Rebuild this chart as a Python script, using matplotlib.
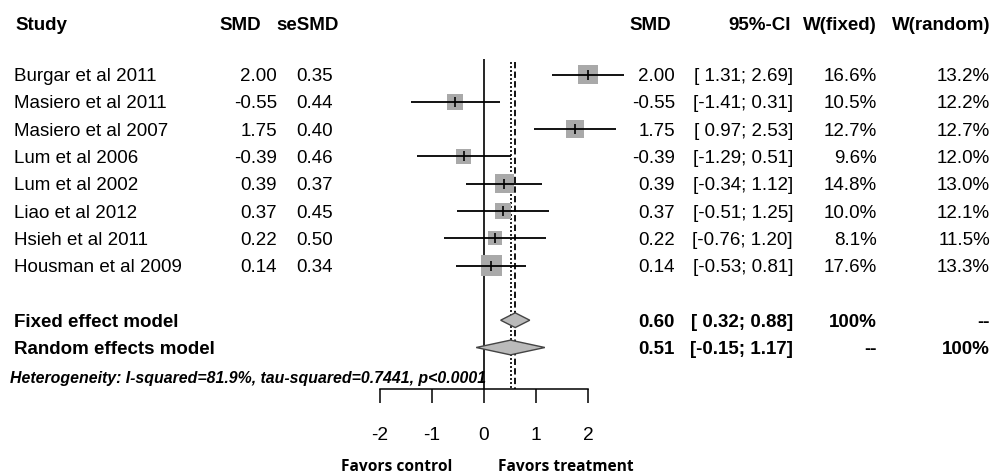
import numpy as np
import matplotlib
matplotlib.use("Agg")
import matplotlib.pyplot as plt
import matplotlib.transforms as mtransforms
from matplotlib.patches import Polygon

# study data
studies = ["Burgar et al 2011", "Masiero et al 2011", "Masiero et al 2007", "Lum et al 2006",
           "Lum et al 2002", "Liao et al 2012", "Hsieh et al 2011", "Housman et al 2009"]
smd = [2.00, -0.55, 1.75, -0.39, 0.39, 0.37, 0.22, 0.14]
se_smd = [0.35, 0.44, 0.40, 0.46, 0.37, 0.45, 0.50, 0.34]
ci_lo = [1.31, -1.41, 0.97, -1.29, -0.34, -0.51, -0.76, -0.53]
ci_hi = [2.69, 0.31, 2.53, 0.51, 1.12, 1.25, 1.20, 0.81]
w_fixed = [16.6, 10.5, 12.7, 9.6, 14.8, 10.0, 8.1, 17.6]
w_random = [13.2, 12.2, 12.7, 12.0, 13.0, 12.1, 11.5, 13.3]

# pooled estimates
fixed_est, fixed_lo, fixed_hi = 0.60, 0.32, 0.88
random_est, random_lo, random_hi = 0.51, -0.15, 1.17
het_text = "Heterogeneity: I-squared=81.9%, tau-squared=0.7441, p<0.0001"
xticks = [-2, -1, 0, 1, 2]

W, H = 1005, 475
FONT = "Liberation Sans"
fig = plt.figure(figsize=(W / 100, H / 100), dpi=100)
ax = fig.add_axes([380 / W, 86 / H, 208 / W, 389 / H])

rows = np.arange(1, len(studies) + 1)
fixed_row, random_row = 10, 11
header_row, het_row, favors_row = -0.886, 12.08, 15.38
ybot = 12.52
ax.set_xlim(-2, 2)
ax.set_ylim(ybot, -1.729)

for s in ["top", "right", "left"]:
    ax.spines[s].set_visible(False)
ax.spines["bottom"].set_linewidth(1.1)
ax.set_yticks([])
ax.set_xticks(xticks)
ax.set_xticklabels([str(t) for t in xticks], fontsize=13.8, family=FONT)
ax.tick_params(axis="x", length=10, width=1.1, pad=17)
ax.patch.set_alpha(0)

# reference lines
ax.vlines(0, 0.43, ybot, color="black", lw=1.2, zorder=1)
ax.vlines(random_est, 0.54, ybot, color="black", lw=1.2, linestyles=(0, (1.2, 1.2)), zorder=1)
ax.vlines(fixed_est, 0.54, ybot, color="black", lw=1.3, linestyles=(0, (3.5, 1.8)), zorder=1)

# study CIs and squares
ax.hlines(rows, ci_lo, ci_hi, color="black", lw=1.3, zorder=3, clip_on=False)
side_px = 4.9 * np.sqrt(w_fixed)
ax.scatter(smd, rows, marker="s", s=(side_px * 72 / 100) ** 2, color="#a9a9a9",
           edgecolors="none", zorder=2, clip_on=False)
ax.scatter(smd, rows, marker="|", s=50, color="black", linewidths=1.2, zorder=4)

# diamonds
h = 0.27
for est, lo, hi, r in [(fixed_est, fixed_lo, fixed_hi, fixed_row),
                       (random_est, random_lo, random_hi, random_row)]:
    ax.add_patch(Polygon([(lo, r), (est, r - h), (hi, r), (est, r + h)], closed=True,
                         facecolor="#bababa", edgecolor="#444444", lw=1.0, zorder=3))

# text columns
tr = mtransforms.blended_transform_factory(fig.transFigure, ax.transData)
kw = dict(transform=tr, fontsize=13.5, family=FONT, va="center_baseline")
kwb = dict(kw, fontweight="bold")

def px(x):
    return x / W

ax.text(px(15), header_row, "Study", ha="left", **kwb)
ax.text(px(219), header_row, "SMD", ha="left", **kwb)
ax.text(px(276), header_row, "seSMD", ha="left", **kwb)
ax.text(px(671), header_row, "SMD", ha="right", **kwb)
ax.text(px(791), header_row, "95%-CI", ha="right", **kwb)
ax.text(px(877), header_row, "W(fixed)", ha="right", **kwb)
ax.text(px(990), header_row, "W(random)", ha="right", **kwb)

for i, r in enumerate(rows):
    ax.text(px(14), r, studies[i], ha="left", **kw)
    ax.text(px(277), r, f"{smd[i]:.2f}", ha="right", **kw)
    ax.text(px(333), r, f"{se_smd[i]:.2f}", ha="right", **kw)
    ax.text(px(675), r, f"{smd[i]:.2f}", ha="right", **kw)
    ax.text(px(793), r, f"[{ci_lo[i]:5.2f}; {ci_hi[i]:4.2f}]", ha="right", **kw)
    ax.text(px(877), r, f"{w_fixed[i]:.1f}%", ha="right", **kw)
    ax.text(px(990), r, f"{w_random[i]:.1f}%", ha="right", **kw)

for label, est, lo, hi, wf, wr, r in [
        ("Fixed effect model", fixed_est, fixed_lo, fixed_hi, "100%", "--", fixed_row),
        ("Random effects model", random_est, random_lo, random_hi, "--", "100%", random_row)]:
    ax.text(px(14), r, label, ha="left", **kwb)
    ax.text(px(675), r, f"{est:.2f}", ha="right", **kwb)
    ax.text(px(793), r, f"[{lo:5.2f}; {hi:4.2f}]", ha="right", **kwb)
    ax.text(px(877), r, wf, ha="right", **kwb)
    ax.text(px(990), r, wr, ha="right", **kwb)

ax.text(px(10), het_row, het_text, ha="left", transform=tr, fontsize=11.4, family=FONT,
        fontweight="bold", style="italic", va="center_baseline")

# favours labels
ax.text(-0.6, favors_row, "Favors control", ha="right", va="center", fontsize=11.2,
        family="Open Sans", fontweight="bold", clip_on=False)
ax.text(0.27, favors_row, "Favors treatment", ha="left", va="center", fontsize=11.2,
        family="Open Sans", fontweight="bold", clip_on=False)

fig.savefig("out.png", dpi=100, facecolor="white")
